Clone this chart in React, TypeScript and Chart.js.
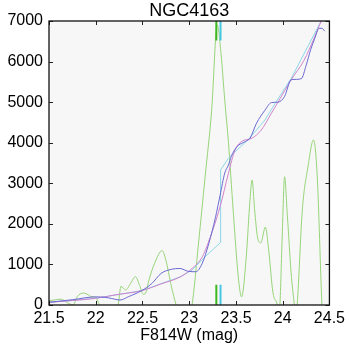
import { useEffect, useRef } from "react";
import { Chart, registerables } from "chart.js";

Chart.register(...registerables);

const FONT = "'Liberation Sans', Arial, Helvetica, sans-serif";

const xTicks = [21.5, 22, 22.5, 23, 23.5, 24, 24.5];
const yTicks = [0, 1000, 2000, 3000, 4000, 5000, 6000, 7000];

// edge-detection response (green)
const greenMag = [21.5, 21.56, 21.63, 21.68, 21.72, 21.76, 21.8, 21.87, 21.92, 21.96, 21.99, 22.04, 22.1, 22.17, 22.22, 22.24, 22.27, 22.32, 22.37, 22.425, 22.47, 22.51, 22.54, 22.57, 22.63, 22.71, 22.75, 22.81, 22.86, 22.93, 22.99, 23.03, 23.1, 23.17, 23.24, 23.3, 23.34, 23.38, 23.42, 23.47, 23.525, 23.56, 23.61, 23.65, 23.673, 23.7, 23.73, 23.765, 23.815, 23.85, 23.896, 23.94, 23.955, 23.97, 23.995, 24.02, 24.05, 24.09, 24.125, 24.14, 24.155, 24.21, 24.27, 24.33, 24.37, 24.42, 24.46];
const greenVal = [105, 125, 145, 80, 30, 5, 200, 295, 250, 200, 205, 0, -300, -350, -120, 0, 460, 370, 520, 700, 480, 260, 330, 620, 1030, 1340, 1110, 450, 0, -500, -300, 0, 1530, 3160, 4800, 6900, 6200, 5050, 4000, 2340, 690, 200, 1180, 2590, 3080, 2340, 1680, 1530, 1920, 1360, 300, 20, -200, 0, 1700, 3160, 2200, 800, 0, -300, 0, 2340, 3400, 4070, 3150, 0, -1500];

// cumulative curves
const blueMag = [21.5, 21.75, 22.0, 22.1, 22.17, 22.26, 22.35, 22.49, 22.6, 22.7, 22.81, 22.9, 22.99, 23.07, 23.14, 23.21, 23.28, 23.33, 23.38, 23.42, 23.45, 23.51, 23.6, 23.65, 23.72, 23.81, 23.88, 23.95, 24.02, 24.09, 24.13, 24.2, 24.25, 24.3, 24.34, 24.39, 24.42, 24.45];
const blueVal = [66, 130, 200, 190, 160, 123, 205, 353, 530, 780, 880, 900, 830, 820, 1030, 1520, 2150, 2700, 3250, 3450, 3660, 3900, 4030, 4110, 4480, 4800, 4990, 5000, 5140, 5550, 5560, 5580, 5900, 6300, 6550, 6820, 6820, 6750];

const pinkMag = [21.5, 22.0, 22.21, 22.49, 22.7, 22.91, 23.03, 23.14, 23.24, 23.33, 23.42, 23.49, 23.56, 23.67, 23.77, 23.88, 23.95, 24.09, 24.23, 24.42];
const pinkVal = [66, 165, 250, 353, 520, 700, 900, 1190, 1770, 2420, 3250, 3820, 4030, 4110, 4310, 4730, 5000, 5550, 6040, 7040];

const cyanMag = [21.5, 22.0, 22.49, 22.91, 23.03, 23.17, 23.335, 23.336, 23.42, 23.51, 23.63, 23.81, 23.93, 24.09, 24.42];
const cyanVal = [66, 165, 353, 700, 860, 1190, 1540, 3330, 3620, 3820, 4070, 4560, 5010, 5580, 7040];

// TRGB markers
const markerMag = [23.29, 23.335];
const markerLow = [0, 500];
const markerHigh = [6520, 7000];

const pts = (xs: number[], ys: number[]) => xs.map((x, i) => ({ x, y: ys[i] }));

const framePlugin = {
  id: "frame",
  beforeDraw(chart: any) {
    const { ctx, chartArea } = chart;
    const { left, top, right, bottom } = chartArea;
    ctx.save();
    ctx.fillStyle = "#f7f7f7";
    ctx.fillRect(left, top, right - left, bottom - top);
    ctx.restore();
  },
  afterDraw(chart: any) {
    const { ctx, chartArea, scales } = chart;
    const { left, top, right, bottom } = chartArea;
    ctx.save();
    ctx.strokeStyle = "#222";
    ctx.lineWidth = 1;
    const len = 4;
    ctx.beginPath();
    xTicks.forEach((v) => {
      const px = Math.round(scales.x.getPixelForValue(v)) + 0.5;
      ctx.moveTo(px, bottom);
      ctx.lineTo(px, bottom - len);
      ctx.moveTo(px, top);
      ctx.lineTo(px, top + len);
    });
    yTicks.forEach((v) => {
      const py = Math.round(scales.y.getPixelForValue(v)) + 0.5;
      ctx.moveTo(left, py);
      ctx.lineTo(left + len, py);
      ctx.moveTo(right, py);
      ctx.lineTo(right - len, py);
    });
    ctx.stroke();
    ctx.lineWidth = 1.3;
    ctx.strokeStyle = "#111";
    ctx.strokeRect(left, top, right - left, bottom - top);
    ctx.restore();
  },
};

export default function App() {
  const ref = useRef<HTMLCanvasElement | null>(null);

  useEffect(() => {
    if (!ref.current) return;
    const line = (data: any, color: string, extra: any = {}) => ({
      data,
      borderColor: color,
      backgroundColor: color,
      borderWidth: 1,
      pointRadius: 0,
      fill: false,
      ...extra,
    });
    const chart = new Chart(ref.current, {
      type: "line",
      data: {
        datasets: [
          line(pts([markerMag[0], markerMag[0]], markerLow), "rgb(60,185,30)", { borderWidth: 2 }),
          line(pts([markerMag[0], markerMag[0]], markerHigh), "rgb(60,185,30)", { borderWidth: 2 }),
          line(pts([markerMag[1], markerMag[1]], markerLow), "rgb(70,200,225)", { borderWidth: 2 }),
          line(pts([markerMag[1], markerMag[1]], markerHigh), "rgb(70,200,225)", { borderWidth: 2 }),
          line(pts(blueMag, blueVal), "rgb(105,105,210)", { cubicInterpolationMode: "monotone" }),
          line(pts(pinkMag, pinkVal), "rgb(210,130,205)", { cubicInterpolationMode: "monotone" }),
          line(pts(cyanMag, cyanVal), "rgb(140,215,230)", { tension: 0 }),
          line(pts(greenMag, greenVal), "rgb(150,212,120)", { cubicInterpolationMode: "monotone" }),
        ],
      },
      options: {
        responsive: false,
        animation: false,
        devicePixelRatio: 1,
        layout: { padding: { top: 0, right: 17, left: 0, bottom: 0 } },
        plugins: {
          legend: { display: false },
          tooltip: { enabled: false },
          title: {
            display: true,
            text: "NGC4163",
            fullSize: false,
            color: "#000",
            font: { family: FONT, size: 18, weight: "normal", lineHeight: 1 },
            padding: { top: 2, bottom: 1 },
          },
        },
        scales: {
          x: {
            type: "linear",
            min: 21.5,
            max: 24.5,
            grid: { display: false, drawTicks: false },
            border: { display: false },
            afterBuildTicks: (s: any) => {
              s.ticks = xTicks.map((v) => ({ value: v }));
            },
            ticks: {
              color: "#000",
              font: { family: FONT, size: 16 },
              padding: 4,
              maxRotation: 0,
              autoSkip: false,
              callback: (v: any) => String(v),
            },
            title: {
              display: true,
              text: "F814W (mag)",
              color: "#000",
              font: { family: FONT, size: 16 },
              padding: { top: 0, bottom: 4 },
            },
            afterFit: (s: any) => {
              s.height = 44;
            },
          },
          y: {
            type: "linear",
            min: 0,
            max: 7000,
            grid: { display: false, drawTicks: false },
            border: { display: false },
            afterBuildTicks: (s: any) => {
              s.ticks = yTicks.map((v) => ({ value: v }));
            },
            ticks: {
              color: "#000",
              font: { family: FONT, size: 16 },
              padding: 6,
              autoSkip: false,
              callback: (v: any) => String(v),
            },
            afterFit: (s: any) => {
              s.width = 49;
            },
          },
        },
      },
      plugins: [framePlugin],
    } as any);
    return () => chart.destroy();
  }, []);

  return (
    <div style={{ position: "absolute", left: 0, top: 0, width: 349, height: 349, background: "#fff" }}>
      <canvas ref={ref} width={349} height={349} />
    </div>
  );
}
